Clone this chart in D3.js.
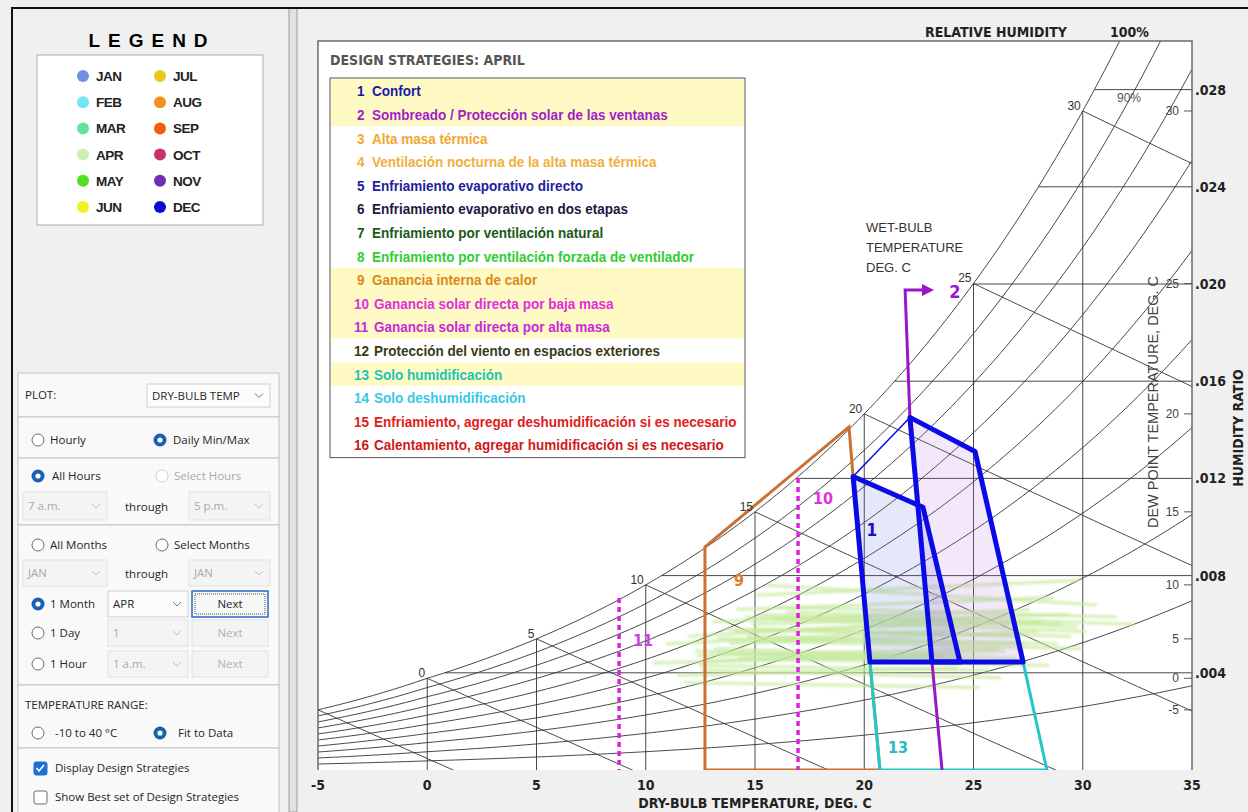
<!DOCTYPE html>
<html>
<head>
<meta charset="utf-8">
<script src="https://cdn.jsdelivr.net/npm/d3@7"></script>
<style>
  body { margin: 0; background: #f0f0f0; }
  svg { display: block; }
</style>
</head>
<body>
<div id="chart"></div>
<script>
// ---- data ----
const months = ["JAN", "FEB", "MAR", "APR", "MAY", "JUN", "JUL", "AUG", "SEP", "OCT", "NOV", "DEC"];
const monthColors = ["#6f8fe2", "#74e4f2", "#62e2a2", "#cdeeb4", "#4fe024", "#f2f024",
                     "#e8c81e", "#f39020", "#f2600e", "#c8306e", "#7030b4", "#0c0cd6"];

const strategyNames = [
  "Confort",
  "Sombreado / Protección solar de las ventanas",
  "Alta masa térmica",
  "Ventilación nocturna de la alta masa térmica",
  "Enfriamiento evaporativo directo",
  "Enfriamiento evaporativo en dos etapas",
  "Enfriamiento por ventilación natural",
  "Enfriamiento por ventilación forzada de ventilador",
  "Ganancia interna de calor",
  "Ganancia solar directa por baja masa",
  "Ganancia solar directa por alta masa",
  "Protección del viento en espacios exteriores",
  "Solo humidificación",
  "Solo deshumidificación",
  "Enfriamiento, agregar deshumidificación si es necesario",
  "Calentamiento, agregar humidificación si es necesario"
];
const strategyColors = ["#1a1aa8", "#a21ec8", "#f0a830", "#eeb040", "#222299", "#1a1a44",
                        "#1a5a1a", "#33cc33", "#d98a1a", "#e02ee0", "#c82ad8", "#3a3a1a",
                        "#22c4b8", "#3ac8e8", "#e02020", "#d01818"];
const activeStrategies = [1, 2, 9, 10, 11, 13];

const dryBulbTicks = [-5, 0, 5, 10, 15, 20, 25, 30, 35];
const ratioTicks = [0.004, 0.008, 0.012, 0.016, 0.020, 0.024, 0.028];
const dewPointTicks = [-5, 0, 5, 10, 15, 20, 25, 30];
const rhLevels = [0.1, 0.2, 0.3, 0.4, 0.5, 0.6, 0.7, 0.8, 0.9, 1.0];
const wetBulbLevels = [-5, 0, 5, 10, 15, 20, 25, 30];
const wetBulbLabels = [0, 5, 10, 15, 20, 25, 30];

// April, daily min / max (dry-bulb degC, humidity ratio)
const aprTmin = [11.0, 12.4, 13.1, 10.4, 12.0, 14.2, 13.6, 12.3, 11.5, 13.9, 14.6, 15.1, 12.8, 11.8, 13.3,
                 14.9, 15.6, 13.2, 12.5, 14.1, 15.3, 16.1, 14.7, 13.4, 12.6, 15.0, 15.9, 16.5, 15.2, 14.3];
const aprWmin = [.0052, .0047, .0061, .0044, .0055, .0066, .0058, .0049, .0039, .0052, .0063, .0072, .0045, .0036, .0054,
                 .0060, .0076, .0050, .0043, .0057, .0064, .0067, .0055, .0048, .0041, .0058, .0062, .0065, .0053, .0046];
const aprTmax = [24.8, 26.1, 27.5, 23.6, 25.3, 28.6, 27.1, 25.0, 24.2, 27.9, 29.0, 29.8, 26.4, 25.2, 27.3,
                 29.3, 30.6, 26.9, 25.7, 28.2, 29.7, 31.5, 28.8, 27.0, 26.2, 29.4, 30.1, 32.3, 29.9, 28.4];
const aprWmax = [.0058, .0050, .0066, .0047, .0062, .0071, .0055, .0045, .0042, .0057, .0060, .0078, .0049, .0034, .0052,
                 .0064, .0068, .0046, .0041, .0061, .0059, .0063, .0052, .0044, .0038, .0055, .0057, .0060, .0050, .0043];

// strategy zones (dry-bulb degC, humidity ratio)
const comfortA = [[19.49, 0.01208], [22.69, 0.01081], [24.38, 0.00444], [20.26, 0.00444]];
const comfortB = [[22.09, 0.01451], [25.07, 0.01311], [27.27, 0.00444], [23.10, 0.00444]];
const humidify13 = [[20.26, 0.00444], [20.72, 0.0], [28.36, 0.0], [27.27, 0.00444]];
const internalGain9 = [[12.71, 0.0], [12.71, 0.00918], [19.30, 0.01412], [19.49, 0.01208], [20.26, 0.00444], [20.72, 0.0]];
const shading2 = [[23.56, 0.0], [23.10, 0.00444], [22.09, 0.01451], [21.87, 0.01975], [22.75, 0.01975]];
const solarLow10 = [[16.97, 0.01202], [16.97, 0.0]];
const solarHigh11 = [[8.78, 0.00708], [8.78, 0.0]];
const zoneLabels = [
  { t: "1", at: [20.35, 0.00988], c: "#1010d8", s: 17 },
  { t: "2", at: [24.15, 0.01967], c: "#9a16c8", s: 18 },
  { t: "9", at: [14.27, 0.00782], c: "#e07a24", s: 16 },
  { t: "10", at: [18.11, 0.01119], c: "#e030e0", s: 16 },
  { t: "11", at: [9.87, 0.00535], c: "#d040e0", s: 16 },
  { t: "13", at: [21.54, 0.00095], c: "#2cb8c4", s: 16 }
];

// ---- psychrometrics ----
const P = 101.325;
function pws(t) {
  return t >= 0 ? 0.6112 * Math.exp(17.62 * t / (243.12 + t))
                : 0.6112 * Math.exp(22.46 * t / (272.62 + t));
}
function wFromPw(pw) { return 0.621945 * pw / (P - pw); }
function wSat(t) { return wFromPw(pws(t)); }
function wRH(t, rh) { return wFromPw(rh * pws(t)); }
function wWetBulb(t, twb) {
  const ws = wSat(twb);
  return ((2501 - 2.326 * twb) * ws - 1.006 * (t - twb)) / (2501 + 1.86 * t - 4.186 * twb);
}
function tDew(w) {
  let lo = -40, hi = 60;
  for (let i = 0; i < 60; i++) {
    const m = (lo + hi) / 2;
    if (wSat(m) < w) lo = m; else hi = m;
  }
  return lo;
}

// ---- svg ----
const width = 1248, height = 812;
const svg = d3.select("#chart").append("svg")
    .attr("width", width)
    .attr("height", height)
    .style("font-family", "'Liberation Sans', Arial, sans-serif");

const narrow = "'Liberation Sans Narrow', 'DejaVu Sans Condensed', 'Liberation Sans', sans-serif";
const uiFont = "'Open Sans', 'Noto Sans', sans-serif";

const x = d3.scaleLinear().domain([-5, 35]).range([318, 1192]);
const y = d3.scaleLinear().domain([0, 0.03]).range([770, 41]);
const line = d3.line().x(d => x(d[0])).y(d => y(d[1]));

// window frame
svg.append("rect").attr("x", 289).attr("y", 8).attr("width", 8).attr("height", height - 8)
    .attr("fill", "#e2e2e2").attr("stroke", "#9a9a9a");
svg.append("path").attr("d", `M12,${height} V8 H${width}`)
    .attr("fill", "none").attr("stroke", "#111").attr("stroke-width", 2);

// ---- legend ----
svg.append("text").attr("x", 152).attr("y", 47)
    .attr("text-anchor", "middle").attr("font-weight", "bold").attr("font-size", 19)
    .attr("letter-spacing", 8).text("LEGEND");
svg.append("rect").attr("x", 37).attr("y", 55).attr("width", 226).attr("height", 170)
    .attr("fill", "#fff").attr("stroke", "#aaa");

const monthItems = svg.append("g").selectAll("g")
    .data(months)
    .enter()
    .append("g")
    .attr("transform", (d, i) => `translate(${i < 6 ? 83 : 160},${76 + (i % 6) * 26.2})`);
monthItems.append("circle").attr("r", 6).attr("fill", (d, i) => monthColors[i]);
monthItems.append("text").attr("x", 13).attr("y", 5)
    .attr("font-size", 13.5).attr("font-weight", "bold").attr("fill", "#222")
    .attr("letter-spacing", -0.5).text(d => d);

// ---- controls panel ----
const ui = svg.append("g").attr("font-family", uiFont).attr("font-size", 11.5);
const sections = [[373, 417], [417, 458], [458, 525], [525, 685], [685, 748], [748, 813]];
sections.forEach(s => {
  ui.append("rect").attr("x", 18).attr("y", s[0]).attr("width", 261).attr("height", s[1] - s[0])
      .attr("fill", "#f9f9f9").attr("stroke", "#c4c4c4");
});

function uiText(x0, y0, s, c) {
  ui.append("text").attr("x", x0).attr("y", y0 + 4).attr("fill", c || "#262626").text(s);
}
function radio(cx, cy, on, disabled) {
  if (on) {
    ui.append("circle").attr("cx", cx).attr("cy", cy).attr("r", 6.5).attr("fill", "#1a5fb4");
    ui.append("circle").attr("cx", cx).attr("cy", cy).attr("r", 2.6).attr("fill", "#fff");
  } else {
    ui.append("circle").attr("cx", cx).attr("cy", cy).attr("r", 6).attr("fill", "#fff")
        .attr("stroke", disabled ? "#cfcfcf" : "#6a6a6a");
  }
}
function combo(x0, y0, w, h, s, disabled) {
  ui.append("rect").attr("x", x0).attr("y", y0).attr("width", w).attr("height", h)
      .attr("fill", disabled ? "#f4f4f4" : "#fcfcfc").attr("stroke", disabled ? "#e2e2e2" : "#cfcfcf");
  uiText(x0 + 5, y0 + h / 2, s, disabled ? "#a8a8a8" : "#262626");
  const cx = x0 + w - 11, cy = y0 + h / 2;
  ui.append("path").attr("d", `M${cx - 4},${cy - 2} L${cx},${cy + 2} L${cx + 4},${cy - 2}`)
      .attr("fill", "none").attr("stroke", disabled ? "#c0c0c0" : "#777");
}
function button(x0, y0, w, h, s, focus) {
  ui.append("rect").attr("x", x0).attr("y", y0).attr("width", w).attr("height", h)
      .attr("fill", focus ? "#f6f6f6" : "#f4f4f4").attr("stroke", focus ? "#2a6bc8" : "#e2e2e2")
      .attr("stroke-width", focus ? 1.5 : 1);
  if (focus) {
    ui.append("rect").attr("x", x0 + 3).attr("y", y0 + 3).attr("width", w - 6).attr("height", h - 6)
        .attr("fill", "none").attr("stroke", "#555").attr("stroke-dasharray", "1,1");
  }
  ui.append("text").attr("x", x0 + w / 2).attr("y", y0 + h / 2 + 4).attr("text-anchor", "middle")
      .attr("fill", focus ? "#262626" : "#b0b0b0").text(s);
}
function checkbox(x0, y0, on) {
  ui.append("rect").attr("x", x0 - 6).attr("y", y0 - 6).attr("width", 13).attr("height", 13).attr("rx", 2)
      .attr("fill", on ? "#1f6fd0" : "#fff").attr("stroke", on ? "#1f6fd0" : "#6a6a6a");
  if (on) {
    ui.append("path").attr("d", `M${x0 - 3.5},${y0} L${x0 - 1},${y0 + 3} L${x0 + 4},${y0 - 3}`)
        .attr("fill", "none").attr("stroke", "#fff").attr("stroke-width", 1.6);
  }
}

uiText(25, 395, "PLOT:");
combo(147, 384, 123, 23, "DRY-BULB TEMP", false);

radio(38, 440, false); uiText(50, 440, "Hourly");
radio(160, 440, true); uiText(173, 440, "Daily Min/Max");

radio(38, 476, true); uiText(52, 476, "All Hours");
radio(162, 476, false, true); uiText(174, 476, "Select Hours", "#a8a8a8");
combo(23, 492, 84, 28, "7 a.m.", true);
uiText(125, 507, "through");
combo(189, 492, 81, 28, "5 p.m.", true);

radio(38, 545, false); uiText(50, 545, "All Months");
radio(162, 545, false); uiText(174, 545, "Select Months");
combo(23, 560, 84, 26, "JAN", true);
uiText(125, 574, "through");
combo(189, 560, 81, 26, "JAN", true);
radio(38, 604, true); uiText(50, 604, "1 Month");
combo(108, 591, 80, 26, "APR", false);
button(192, 591, 76, 26, "Next", true);
radio(38, 633, false); uiText(50, 633, "1 Day");
combo(108, 620, 80, 26, "1", true);
button(192, 620, 76, 26, "Next", false);
radio(38, 664, false); uiText(50, 664, "1 Hour");
combo(108, 651, 80, 26, "1 a.m.", true);
button(192, 651, 76, 26, "Next", false);

uiText(25, 705, "TEMPERATURE RANGE:");
radio(38, 733, false); uiText(55, 733, "-10 to 40 °C");
radio(160, 733, true); uiText(178, 733, "Fit to Data");

checkbox(40, 768, true); uiText(55, 768, "Display Design Strategies");
checkbox(40, 797, false); uiText(55, 797, "Show Best set of Design Strategies");

// ---- psychrometric chart ----
const x0 = x(-5), x1 = x(35), yTop = y(0.03), yBot = y(0);
svg.append("rect").attr("x", x0).attr("y", yTop).attr("width", x1 - x0).attr("height", yBot - yTop)
    .attr("fill", "#fff");
const defs = svg.append("defs");
defs.append("clipPath").attr("id", "plotclip")
    .append("rect").attr("x", x0).attr("y", yTop).attr("width", x1 - x0).attr("height", yBot - yTop);
defs.append("filter").attr("id", "soft")
    .append("feGaussianBlur").attr("stdDeviation", 0.9);

const plot = svg.append("g").attr("clip-path", "url(#plotclip)");
const grid = plot.append("g").attr("fill", "none").attr("stroke", "#333").attr("stroke-width", 0.9);

// relative humidity curves
rhLevels.forEach(rh => {
  grid.append("path").attr("d", line(d3.range(-5, 35.01, 0.25).map(t => [t, wRH(t, rh)])));
});
// dry-bulb verticals
dryBulbTicks.filter(t => t > -5 && t < 35).forEach(t => {
  grid.append("path").attr("d", line([[t, 0], [t, wSat(t)]]));
});
// humidity ratio horizontals
ratioTicks.forEach(w => {
  grid.append("path").attr("d", line([[tDew(w), w], [35, w]]));
});
// wet-bulb lines
wetBulbLevels.forEach(twb => {
  const pts = d3.range(twb, 35.01, 0.25).map(t => [t, wWetBulb(t, twb)]).filter(d => d[1] > -0.002);
  grid.append("path").attr("d", line(pts));
});

// April daily min/max
plot.append("g").attr("filter", "url(#soft)").selectAll("path")
    .data(aprTmin.map((t, i) => [[t, aprWmin[i]], [aprTmax[i], aprWmax[i]]]))
    .enter()
    .append("path")
    .attr("d", line)
    .attr("stroke", "#c4ea9c")
    .attr("stroke-width", 3.5)
    .attr("stroke-linecap", "round")
    .attr("opacity", 0.65)
    .attr("fill", "none");

// comfort fills
plot.append("path").attr("d", line(comfortA) + "Z").attr("fill", "#6c6ce0").attr("opacity", 0.16);
plot.append("path").attr("d", line(comfortB) + "Z").attr("fill", "#b070e0").attr("opacity", 0.16);

// strategy 9, 13
plot.append("path").attr("d", line(internalGain9) + "Z")
    .attr("fill", "none").attr("stroke", "#cc7030").attr("stroke-width", 3);
plot.append("path").attr("d", line(humidify13) + "Z")
    .attr("fill", "none").attr("stroke", "#22c8c8").attr("stroke-width", 3);

// strategy 10, 11
[solarLow10, solarHigh11].forEach(seg => {
  plot.append("path").attr("d", line(seg))
      .attr("fill", "none").attr("stroke", "#e020e0").attr("stroke-width", 3.5)
      .attr("stroke-dasharray", "5,4");
});

// strategy 2 with arrow
defs.append("marker")
    .attr("id", "arrow").attr("viewBox", "0 0 10 10").attr("refX", 2).attr("refY", 5)
    .attr("markerWidth", 4).attr("markerHeight", 4).attr("orient", "auto")
    .append("path").attr("d", "M0,0 L10,5 L0,10 Z").attr("fill", "#9a16c8");
plot.append("path").attr("d", line(shading2))
    .attr("fill", "none").attr("stroke", "#9a16c8").attr("stroke-width", 3)
    .attr("marker-end", "url(#arrow)");

// comfort zone outlines
plot.append("path").attr("d", line([comfortA[0], comfortB[0]]))
    .attr("stroke", "#0a0ae6").attr("stroke-width", 1.5);
[comfortA, comfortB].forEach(z => {
  plot.append("path").attr("d", line(z) + "Z")
      .attr("fill", "none").attr("stroke", "#0a0ae6").attr("stroke-width", 5)
      .attr("stroke-linejoin", "round");
});

// zone numbers
svg.append("g").selectAll("text")
    .data(zoneLabels)
    .enter()
    .append("text")
    .attr("x", d => x(d.at[0]))
    .attr("y", d => y(d.at[1]))
    .attr("dy", "0.36em")
    .attr("text-anchor", "middle")
    .attr("font-family", narrow)
    .attr("font-weight", "bold")
    .attr("font-size", d => d.s)
    .attr("fill", d => d.c)
    .text(d => d.t);

// wet-bulb labels on saturation curve
svg.append("g").selectAll("text")
    .data(wetBulbLabels)
    .enter()
    .append("text")
    .attr("x", d => x(d) - 2)
    .attr("y", d => y(wSat(d)) - 1)
    .attr("text-anchor", "end")
    .attr("font-size", 12)
    .attr("fill", "#333")
    .text(d => d);

// frame
svg.append("path").attr("d", `M${x0},${yBot} V${yTop} H${x1} V${yBot}`)
    .attr("fill", "none").attr("stroke", "#6a6a6a").attr("stroke-width", 1.5);

// bottom axis
svg.append("g").selectAll("text")
    .data(dryBulbTicks)
    .enter()
    .append("text")
    .attr("x", d => x(d))
    .attr("y", 790)
    .attr("text-anchor", "middle")
    .attr("font-family", narrow).attr("font-weight", "bold").attr("font-size", 14)
    .attr("fill", "#222")
    .text(d => d);
svg.append("text").attr("x", 755).attr("y", 808).attr("text-anchor", "middle")
    .attr("font-family", narrow).attr("font-weight", "bold").attr("font-size", 14).attr("fill", "#222")
    .text("DRY-BULB TEMPERATURE, DEG. C");

// humidity ratio axis
svg.append("g").selectAll("text")
    .data(ratioTicks)
    .enter()
    .append("text")
    .attr("x", x1 + 3)
    .attr("y", d => y(d))
    .attr("dy", "0.35em")
    .attr("font-family", narrow).attr("font-weight", "bold").attr("font-size", 14)
    .attr("fill", "#222")
    .text(d => d3.format(".3f")(d).replace(/^0/, ""));
svg.append("text").attr("transform", `translate(1243,428) rotate(-90)`).attr("text-anchor", "middle")
    .attr("font-family", narrow).attr("font-weight", "bold").attr("font-size", 14).attr("fill", "#222")
    .text("HUMIDITY RATIO");

// dew point axis
const dew = svg.append("g");
dewPointTicks.forEach(t => {
  dew.append("line").attr("x1", x1 - 8).attr("x2", x1).attr("y1", y(wSat(t))).attr("y2", y(wSat(t)))
      .attr("stroke", "#555");
  dew.append("text").attr("x", x1 - 13).attr("y", y(wSat(t))).attr("dy", "0.35em")
      .attr("text-anchor", "end").attr("font-size", 12).attr("fill", "#444").text(t);
});
svg.append("text").attr("transform", `translate(1158,402) rotate(-90)`).attr("text-anchor", "middle")
    .attr("font-size", 14.5).attr("fill", "#444")
    .text("DEW POINT TEMPERATURE, DEG. C");

// top labels
svg.append("text").attr("x", 925).attr("y", 37)
    .attr("font-family", narrow).attr("font-weight", "bold").attr("font-size", 14).attr("fill", "#222")
    .text("RELATIVE HUMIDITY");
svg.append("text").attr("x", 1110).attr("y", 37)
    .attr("font-family", narrow).attr("font-weight", "bold").attr("font-size", 14).attr("fill", "#222")
    .text("100%");
svg.append("text").attr("x", 1117).attr("y", 102).attr("font-size", 12).attr("fill", "#555").text("90%");

const wbTitle = svg.append("text").attr("font-size", 13).attr("fill", "#333");
["WET-BULB", "TEMPERATURE", "DEG. C"].forEach((s, i) => {
  wbTitle.append("tspan").attr("x", 866).attr("y", 232 + i * 20).text(s);
});

// ---- design strategies box ----
svg.append("text").attr("x", 330).attr("y", 65)
    .attr("font-family", narrow).attr("font-weight", "bold").attr("font-size", 14).attr("fill", "#555")
    .text("DESIGN STRATEGIES:  APRIL");

const boxTop = 78, rowH = 23.6;
const box = svg.append("g");
box.append("rect").attr("x", 330).attr("y", boxTop).attr("width", 415).attr("height", rowH * 16 + 2)
    .attr("fill", "#fff");
box.selectAll("rect.hl")
    .data(activeStrategies)
    .enter()
    .append("rect")
    .attr("class", "hl")
    .attr("x", 331).attr("y", d => boxTop + 1 + rowH * (d - 1))
    .attr("width", 413).attr("height", rowH)
    .attr("fill", "#fff9c4");
box.append("rect").attr("x", 330).attr("y", boxTop).attr("width", 415).attr("height", rowH * 16 + 2)
    .attr("fill", "none").attr("stroke", "#555");

const rows = box.selectAll("g.row")
    .data(strategyNames)
    .enter()
    .append("g")
    .attr("class", "row")
    .attr("font-family", "'Liberation Sans', Arial, sans-serif")
    .attr("font-weight", "bold")
    .attr("font-size", 15)
    .attr("fill", (d, i) => strategyColors[i]);
const nums = rows.append("text").text((d, i) => i + 1);
const names = rows.append("text").text(d => d);
// squeeze horizontally so row 2 spans like the reference
const k = 296 / names.nodes()[1].getComputedTextLength();
const rowY = i => boxTop + 1 + rowH * i + rowH / 2 + 5.5;
nums.attr("transform", (d, i) => `translate(${i < 9 ? 357 : 354},${rowY(i)}) scale(${k},1)`);
names.attr("transform", (d, i) => `translate(${i < 9 ? 372 : 374},${rowY(i)}) scale(${k},1)`);
</script>
</body>
</html>
